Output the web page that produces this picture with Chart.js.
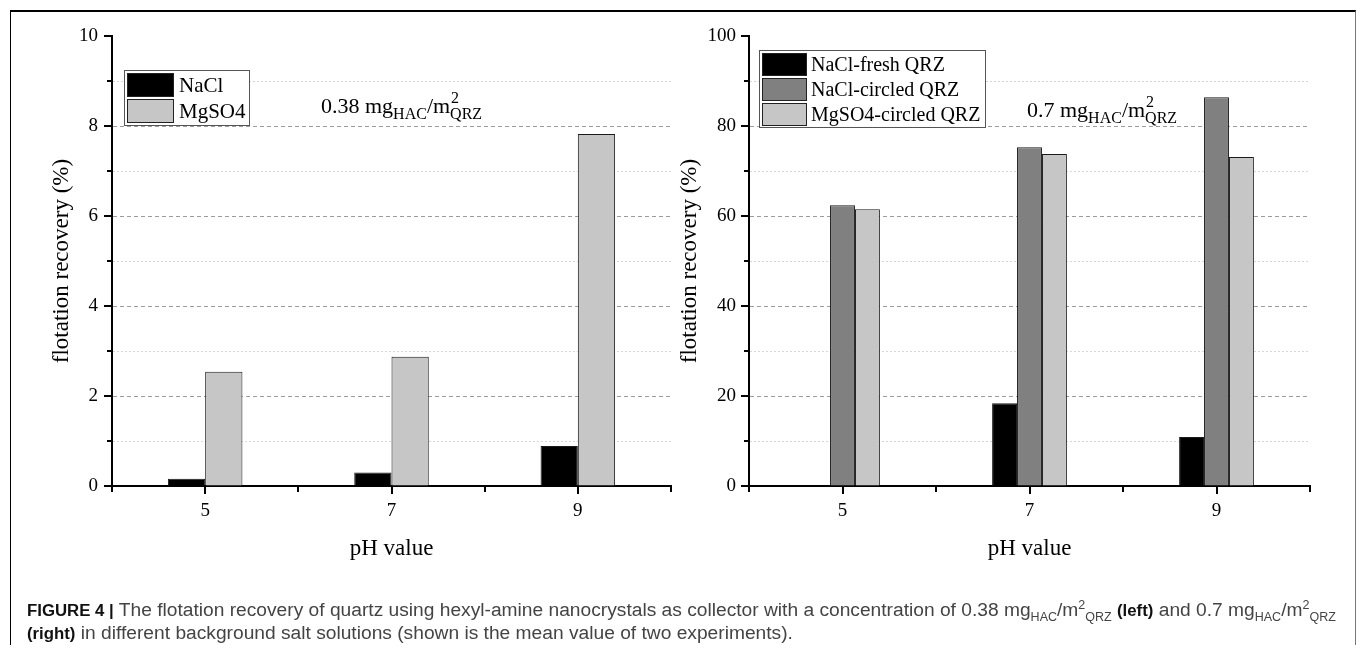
<!DOCTYPE html>
<html>
<head>
<meta charset="utf-8">
<script src="https://cdn.jsdelivr.net/npm/chart.js@4.4.1/dist/chart.umd.min.js"></script>
<style>
  html, body { margin:0; padding:0; background:#fff; }
  body { width:1359px; height:645px; position:relative; overflow:hidden; }
  #c1 { position:absolute; left:0; top:0; }
  #c2 { position:absolute; left:676px; top:0; }
  #frame { position:absolute; left:10px; top:10px; width:1346px; height:650px;
           border-top:2px solid #000; border-left:1.5px solid #000; border-right:1.5px solid #777;
           box-sizing:border-box; pointer-events:none; }
  #caption { position:absolute; left:27px; top:599px; width:1330px; white-space:nowrap;
             font-family:"Liberation Sans", Arial, sans-serif; font-size:19.2px; line-height:22px; color:#444; }
  #caption b { color:#111; font-size:16.8px; }
  #caption sub, #caption sup { font-size:12.5px; line-height:0; }
</style>
</head>
<body>
<canvas id="c1" width="680" height="580"></canvas>
<canvas id="c2" width="683" height="580"></canvas>
<div id="frame"></div>
<div id="caption"><b>FIGURE 4 |</b> The flotation recovery of quartz using hexyl-amine nanocrystals as collector with a concentration of 0.38 mg<sub>HAC</sub>/m<sup>2</sup><sub>QRZ</sub> <b>(left)</b> and 0.7 mg<sub>HAC</sub>/m<sup>2</sup><sub>QRZ</sub><br><b>(right)</b> in different background salt solutions (shown is the mean value of two experiments).</div>
<script>
// ---- data ----
const categories = ['5', '7', '9'];
const leftNaCl = [0.16, 0.30, 0.89];
const leftMgSO4 = [2.54, 2.87, 7.82];
const rightNaClFresh = [0, 18.4, 10.9];
const rightNaClCircled = [62.4, 75.3, 86.4];
const rightMgSO4Circled = [61.5, 73.8, 73.1];
const leftTickLabels = [0, 2, 4, 6, 8, 10];
const rightTickLabels = [0, 20, 40, 60, 80, 100];
const leftSeriesNames = ['NaCl', 'MgSO4'];
const rightSeriesNames = ['NaCl-fresh QRZ', 'NaCl-circled QRZ', 'MgSO4-circled QRZ'];

const SERIF = '"Liberation Serif", "Times New Roman", serif';
const COL_BLACK = '#000000', COL_DARK = '#808080', COL_LIGHT = '#c6c6c6';

const deco = {
  id: 'deco',
  beforeDatasetsDraw(chart, args, o) {
    const { ctx, chartArea: a, scales: { y } } = chart;
    ctx.save();
    ctx.lineWidth = 1;
    y.ticks.forEach(t => {
      const v = t.value;
      if (v === y.min || v === y.max) return;
      const py = Math.round(y.getPixelForValue(v)) + 0.5;
      const major = o.majorTicks.includes(v);
      ctx.strokeStyle = major ? '#9c9c9c' : '#d6d6d6';
      ctx.setLineDash(major ? [4, 3] : [2, 2]);
      ctx.beginPath(); ctx.moveTo(a.left + 1, py); ctx.lineTo(a.right, py); ctx.stroke();
    });
    ctx.restore();
  },
  afterDraw(chart, args, o) {
    const { ctx, chartArea: a, scales: { x, y } } = chart;
    ctx.save();
    ctx.strokeStyle = '#000'; ctx.lineWidth = 2; ctx.setLineDash([]);
    // y ticks (outward, left)
    y.ticks.forEach(t => {
      const py = Math.round(y.getPixelForValue(t.value));
      const len = o.majorTicks.includes(t.value) ? 8 : 5;
      ctx.beginPath(); ctx.moveTo(a.left, py); ctx.lineTo(a.left - len, py); ctx.stroke();
    });
    // x ticks (outward, down)
    const n = chart.data.labels.length;
    const xs = [];
    for (let i = 0; i < n; i++) xs.push(x.getPixelForValue(i));
    const bounds = [a.left, a.right];
    for (let i = 0; i < n - 1; i++) bounds.push((xs[i] + xs[i + 1]) / 2);
    xs.forEach(px => { ctx.beginPath(); ctx.moveTo(Math.round(px), a.bottom); ctx.lineTo(Math.round(px), a.bottom + 8); ctx.stroke(); });
    bounds.forEach(px => { ctx.beginPath(); ctx.moveTo(Math.round(px), a.bottom); ctx.lineTo(Math.round(px), a.bottom + 6); ctx.stroke(); });

    // legend
    const L = o.legend;
    ctx.lineWidth = 1;
    ctx.fillStyle = '#fff';
    ctx.fillRect(L.x, L.y, L.w, L.h);
    ctx.strokeStyle = '#555';
    ctx.strokeRect(L.x + 0.5, L.y + 0.5, L.w, L.h);
    ctx.font = L.font + 'px ' + SERIF;
    ctx.textBaseline = 'middle';
    chart.data.datasets.forEach((ds, i) => {
      const sy = L.y + 3 + i * L.row;
      ctx.fillStyle = ds.backgroundColor;
      ctx.fillRect(L.x + 3, sy, L.sw, L.sh);
      ctx.strokeStyle = '#222';
      ctx.strokeRect(L.x + 3.5, sy + 0.5, L.sw - 1, L.sh - 1);
      ctx.fillStyle = '#000';
      ctx.fillText(ds.label, L.x + L.tx, sy + L.sh / 2 + 1);
    });

    // annotation
    const A = o.annot;
    ctx.textBaseline = 'alphabetic';
    ctx.fillStyle = '#000';
    let cx = A.x;
    ctx.font = '22px ' + SERIF;
    ctx.fillText(A.value + ' mg', cx, A.y); cx += ctx.measureText(A.value + ' mg').width;
    ctx.font = '16px ' + SERIF;
    ctx.fillText('HAC', cx, A.y + 6); cx += ctx.measureText('HAC').width;
    ctx.font = '22px ' + SERIF;
    ctx.fillText('/m', cx, A.y); cx += ctx.measureText('/m').width;
    ctx.font = '16px ' + SERIF;
    ctx.fillText('2', cx + 1, A.y - 10);
    ctx.fillText('QRZ', cx, A.y + 6);
    ctx.restore();
  }
};

function makeChart(id, datasets, ymax, ystep, tickLabels, cfg) {
  return new Chart(document.getElementById(id), {
    type: 'bar',
    data: { labels: categories, datasets },
    plugins: [deco],
    options: {
      responsive: false,
      animation: false,
      events: [],
      layout: { padding: { top: 36, right: cfg.padRight, left: 0, bottom: 0 } },
      datasets: { bar: { categoryPercentage: 0.4, barPercentage: 1.0 } },
      plugins: {
        legend: { display: false },
        tooltip: { enabled: false },
        deco: { majorTicks: tickLabels, legend: cfg.legend, annot: cfg.annot }
      },
      scales: {
        x: {
          type: 'category',
          offset: true,
          grid: { display: true, drawOnChartArea: false, drawTicks: false, color: 'rgba(0,0,0,0)' },
          border: { display: true, color: '#000', width: 2 },
          ticks: { color: '#000', padding: 14, font: { family: SERIF, size: 19 } },
          title: { display: true, text: 'pH value', color: '#000', font: { family: SERIF, size: 23 }, padding: { top: 0, bottom: 17 } },
          afterFit(s) { s.height = 94; }
        },
        y: {
          min: 0, max: ymax,
          grid: { display: true, drawOnChartArea: false, drawTicks: false, color: 'rgba(0,0,0,0)' },
          border: { display: true, color: '#000', width: 2 },
          ticks: {
            stepSize: ystep, autoSkip: false, color: '#000', padding: cfg.tickPad,
            font: { family: SERIF, size: 19 },
            callback: v => tickLabels.includes(v) ? String(v) : ''
          },
          title: { display: true, text: 'flotation recovery (%)', color: '#000', font: { family: SERIF, size: 23 }, padding: { top: cfg.titlePad, bottom: 0 } },
          afterFit(s) { s.width = cfg.yWidth; }
        }
      }
    }
  });
}

const bw = ctx => (ctx.raw === 0 ? 0 : 1);

makeChart('c1', [
  { label: leftSeriesNames[0], data: leftNaCl, backgroundColor: COL_BLACK, borderColor: '#1a1a1a', borderWidth: bw },
  { label: leftSeriesNames[1], data: leftMgSO4, backgroundColor: COL_LIGHT, borderColor: '#1a1a1a', borderWidth: bw }
], 10, 1, leftTickLabels, {
  padRight: 9, yWidth: 112, tickPad: 14, titlePad: 48,
  legend: { x: 124, y: 70, w: 125, h: 55, row: 26, sw: 47, sh: 24, tx: 55, font: 21 },
  annot: { x: 321, y: 113, value: '0.38' }
});

makeChart('c2', [
  { label: rightSeriesNames[0], data: rightNaClFresh, backgroundColor: COL_BLACK, borderColor: '#1a1a1a', borderWidth: bw },
  { label: rightSeriesNames[1], data: rightNaClCircled, backgroundColor: COL_DARK, borderColor: '#1a1a1a', borderWidth: bw },
  { label: rightSeriesNames[2], data: rightMgSO4Circled, backgroundColor: COL_LIGHT, borderColor: '#1a1a1a', borderWidth: bw }
], 100, 10, rightTickLabels, {
  padRight: 49, yWidth: 73, tickPad: 13, titlePad: 0,
  legend: { x: 83, y: 50, w: 226, h: 77, row: 25, sw: 45, sh: 23, tx: 52, font: 20 },
  annot: { x: 351, y: 117, value: '0.7' }
});
</script>
</body>
</html>
